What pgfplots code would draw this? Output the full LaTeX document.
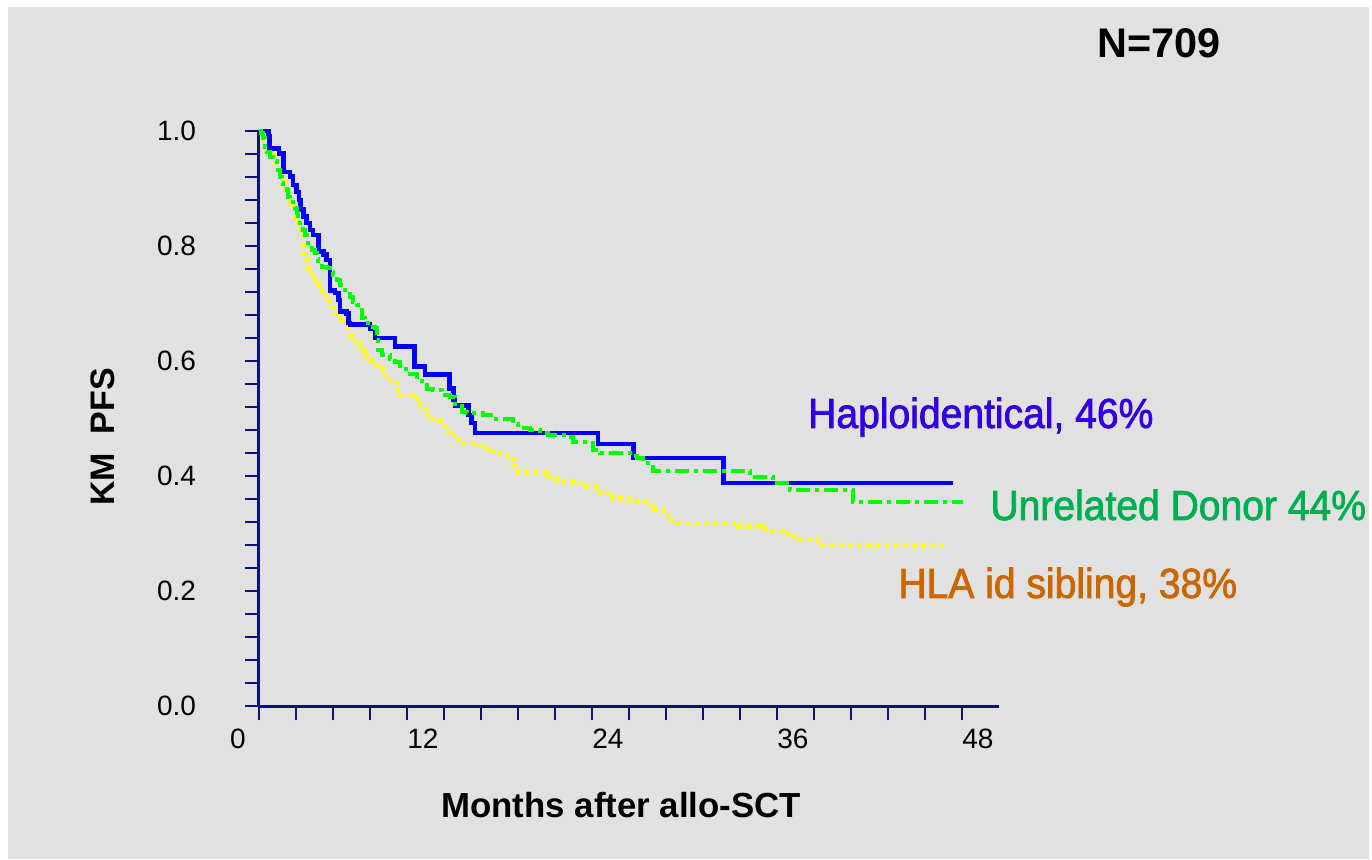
\documentclass[border=0pt]{standalone}
\usepackage{pgfplots}
\pgfplotsset{compat=1.18}
\usepackage{fontspec}
\setmainfont{Liberation Sans}
\newfontfamily\lblfont[FakeStretch=0.93,FakeBold=1.8]{Liberation Sans}
\definecolor{bg}{RGB}{225,225,225}
\definecolor{navy}{RGB}{16,16,128}
\definecolor{haplo}{RGB}{51,0,230}
\definecolor{urd}{RGB}{0,176,80}
\definecolor{sib}{RGB}{204,102,0}
\definecolor{kmblue}{RGB}{0,0,255}
\definecolor{kmgreen}{RGB}{0,255,0}
\definecolor{kmyellow}{RGB}{255,255,0}

\pgfplotstableread{
t S
0 1.0
0.6 0.99
0.67 0.97
1.3 0.961
1.58 0.929
2.0 0.921
2.2 0.906
2.44 0.894
2.6 0.880
2.7 0.863
2.9 0.851
3.1 0.840
3.3 0.828
3.5 0.819
3.85 0.790
4.2 0.785
4.39 0.776
4.61 0.723
4.93 0.718
5.15 0.706
5.25 0.686
5.69 0.683
5.79 0.666
5.9 0.663
7.2 0.657
7.52 0.640
8.82 0.625
10.1 0.590
10.77 0.577
12.35 0.552
12.6 0.532
12.71 0.523
13.6 0.506
13.8 0.492
14.0 0.475
22.0 0.456
24.28 0.431
30.12 0.388
45.0 0.388
}\haplo

\pgfplotstableread{
t S
0 1.0
0.16 0.996
0.27 0.987
0.38 0.973
0.49 0.964
0.71 0.955
0.93 0.947
1.15 0.941
1.25 0.932
1.36 0.920
1.47 0.909
1.58 0.903
1.80 0.897
1.90 0.886
2.01 0.877
2.23 0.871
2.34 0.866
2.44 0.857
2.55 0.845
2.66 0.834
2.88 0.828
2.99 0.819
3.10 0.810
3.20 0.802
3.42 0.793
3.64 0.787
3.74 0.778
3.85 0.770
4.07 0.764
4.39 0.761
4.61 0.755
4.82 0.750
5.04 0.741
5.25 0.732
5.58 0.723
5.79 0.720
5.90 0.712
6.12 0.703
6.33 0.697
6.44 0.689
6.66 0.674
6.88 0.666
7.20 0.660
7.52 0.657
7.63 0.636
7.74 0.619
7.96 0.610
8.50 0.604
8.82 0.599
9.15 0.592
9.36 0.586
9.79 0.578
10.23 0.573
10.55 0.558
10.88 0.552
11.31 0.549
11.85 0.541
12.39 0.538
12.71 0.526
13.15 0.512
13.47 0.509
14.55 0.506
15.20 0.500
16.50 0.491
16.82 0.483
17.58 0.480
18.23 0.474
18.77 0.471
19.96 0.468
20.39 0.460
21.36 0.457
21.68 0.445
22.12 0.440
24.06 0.434
24.50 0.431
24.93 0.422
25.58 0.408
31.85 0.399
33.36 0.387
34.44 0.376
38.55 0.355
45.68 0.355
}\unrel

\pgfplotstableread{
t S
0 1.0
0.27 0.984
0.59 0.973
0.81 0.961
1.03 0.944
1.25 0.929
1.47 0.915
1.69 0.900
1.90 0.886
2.12 0.874
2.34 0.851
2.55 0.834
2.66 0.819
2.88 0.787
2.99 0.776
3.20 0.761
3.42 0.747
3.64 0.735
3.85 0.723
4.07 0.715
4.39 0.703
4.61 0.692
4.93 0.683
5.25 0.674
5.58 0.668
5.79 0.657
6.01 0.642
6.23 0.631
6.55 0.619
6.77 0.610
6.98 0.602
7.31 0.593
7.63 0.587
8.0 0.575
8.5 0.562
9.0 0.548
9.15 0.541
10.01 0.535
10.44 0.517
10.88 0.506
11.31 0.497
11.74 0.489
12.07 0.477
12.39 0.471
12.93 0.457
14.33 0.448
14.77 0.442
15.42 0.439
16.07 0.430
16.50 0.418
16.82 0.406
18.66 0.397
19.31 0.391
20.39 0.388
21.25 0.382
22.12 0.370
22.98 0.361
24.0 0.357
25.0 0.350
25.6 0.342
26.2 0.332
26.8 0.322
27.2 0.318
31.1 0.312
32.5 0.309
33.0 0.304
34.0 0.300
34.33 0.295
35.09 0.289
36.18 0.280
44.6 0.280
}\sibling

\begin{document}
\begin{tikzpicture}
\path[use as bounding box, fill=white] (-129.5pt,-76.5pt) rectangle (556.5pt,353pt);
\fill[bg] (-125.5pt,-76.5pt) rectangle (555pt,349.5pt);
\begin{axis}[
  at={(0pt,0pt)}, anchor=south west,
  scale only axis, width=370pt, height=287.5pt,
  xmin=0, xmax=48, ymin=0, ymax=1,
  axis lines=left,
  axis line style={-, draw=navy, line width=1.5pt},
  tick align=outside,
  major tick length=7pt, minor tick length=7pt,
  tick style={draw=navy, line width=1.1pt},
  xtick={0,12,24,36}, xticklabels={0,12,24,36},
  extra x ticks={48}, extra x tick labels={48},
  extra x tick style={tick style={draw=none}},
  minor xtick={2.4,4.8,7.2,9.6,14.4,16.8,19.2,21.6,26.4,28.8,31.2,33.6,38.4,40.8,43.2,45.6},
  ytick={0,0.2,0.4,0.6,0.8,1}, yticklabels={0.0,0.2,0.4,0.6,0.8,1.0},
  minor ytick={0.04,0.08,0.12,0.16,0.24,0.28,0.32,0.36,0.44,0.48,0.52,0.56,0.64,0.68,0.72,0.76,0.84,0.88,0.92,0.96},
  ticklabel style={font=\fontsize{14}{16}\selectfont},
  xticklabel style={xshift=-10.5pt, yshift=-1pt},
  yticklabel style={xshift=-21pt},
  clip=false,
]
\addplot[const plot, draw=kmyellow, line width=2.2pt, dash pattern=on 2.2pt off 2.4pt] table[x=t,y=S] {\sibling};
\addplot[const plot, draw=kmblue, line width=2.3pt] table[x=t,y=S] {\haplo};
\addplot[const plot, draw=kmgreen, line width=2pt, dash pattern=on 7pt off 2.5pt on 2pt off 2.5pt] table[x=t,y=S] {\unrel};

\node[anchor=base, font=\bfseries\fontsize{17.4}{20}\selectfont] at (axis cs:23.5,0) [yshift=-55.5pt] {Months after allo-SCT};
\path (axis cs:0,0.468) ++(-72pt,0pt) node[anchor=base, rotate=90, font=\bfseries\fontsize{17}{20}\selectfont] {KM\ \ PFS};
\node[anchor=base west, font=\bfseries\fontsize{20.7}{24}\selectfont, inner sep=0pt] at (axis cs:54.36,1.1287) {N=709};
\node[anchor=base west, text=haplo, font=\lblfont\fontsize{21}{24}\selectfont, inner sep=0pt] at (axis cs:35.6,0.4835) {Haploidentical, 46\%};
\node[anchor=base west, text=urd, font=\lblfont\fontsize{21}{24}\selectfont, inner sep=0pt] at (axis cs:47.42,0.3235) {Unrelated Donor 44\%};
\node[anchor=base west, text=sib, font=\lblfont\fontsize{21}{24}\selectfont, inner sep=0pt] at (axis cs:41.45,0.188) {HLA id sibling, 38\%};
\end{axis}
\end{tikzpicture}
\end{document}
